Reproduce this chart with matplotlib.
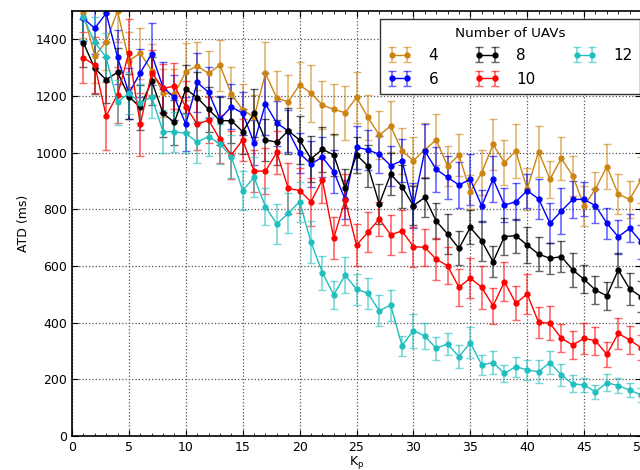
import numpy as np
import matplotlib
matplotlib.use("Agg")
from matplotlib import pyplot as plt
from matplotlib.ticker import MultipleLocator

kp = list(range(1, 51))

atd4 = [1493, 1341, 1392, 1500, 1325, 1351, 1290, 1210, 1206, 1286,
        1306, 1280, 1309, 1207, 1151, 1125, 1280, 1192, 1180, 1239,
        1210, 1168, 1153, 1141, 1195, 1125, 1062, 1094, 1006, 972,
        1010, 1045, 953, 992, 862, 929, 1029, 965, 1006, 871,
        1004, 906, 980, 918, 812, 872, 951, 854, 835, 904]
err4 = [90, 95, 100, 110, 100, 90, 95, 85, 90, 100,
        85, 80, 90, 95, 90, 80, 110, 95, 95, 80,
        100, 85, 90, 95, 90, 80, 85, 90, 80, 85,
        95, 90, 70, 75, 60, 80, 90, 80, 95, 75,
        90, 65, 75, 70, 70, 60, 80, 70, 65, 80]

atd6 = [1474, 1439, 1492, 1337, 1210, 1282, 1348, 1230, 1195, 1101,
        1248, 1213, 1119, 1162, 1139, 1035, 1172, 1104, 1077, 998,
        960, 984, 933, 835, 1019, 1010, 994, 954, 972, 813,
        1006, 941, 913, 886, 906, 812, 907, 815, 827, 866,
        837, 751, 794, 835, 835, 813, 751, 703, 733, 686]
err6 = [80, 90, 100, 95, 90, 85, 110, 90, 80, 95,
        105, 90, 80, 80, 75, 80, 110, 80, 75, 70,
        80, 70, 75, 70, 75, 70, 65, 70, 75, 80,
        95, 80, 75, 80, 90, 55, 80, 60, 65, 60,
        70, 70, 80, 65, 60, 60, 55, 60, 50, 60]

atd8 = [1388, 1298, 1257, 1284, 1198, 1160, 1253, 1139, 1107, 1225,
        1194, 1153, 1113, 1113, 1074, 1139, 1045, 1037, 1077, 1045,
        978, 1012, 992, 874, 992, 953, 819, 924, 880, 813,
        842, 759, 713, 662, 736, 689, 615, 704, 707, 674,
        642, 627, 633, 586, 553, 515, 495, 586, 519, 492]
err8 = [85, 90, 80, 85, 80, 80, 85, 85, 80, 85,
        90, 80, 85, 80, 80, 85, 75, 80, 80, 85,
        80, 80, 75, 70, 65, 75, 70, 75, 75, 70,
        70, 65, 70, 60, 60, 70, 55, 65, 60, 65,
        60, 55, 55, 60, 50, 50, 50, 60, 55, 55]

atd10 = [1335, 1309, 1130, 1204, 1353, 1100, 1282, 1227, 1235, 1162,
         1101, 1115, 1047, 992, 1045, 935, 935, 1001, 874, 866,
         827, 904, 698, 833, 674, 719, 766, 710, 724, 668,
         666, 624, 601, 525, 557, 525, 459, 545, 468, 501,
         401, 398, 345, 321, 345, 336, 288, 362, 339, 312]
err10 = [90, 100, 120, 100, 120, 110, 80, 85, 80, 90,
         90, 80, 85, 85, 75, 75, 80, 75, 90, 80,
         85, 80, 75, 90, 75, 70, 60, 70, 75, 70,
         65, 75, 65, 65, 70, 75, 65, 70, 60, 70,
         55, 60, 50, 50, 55, 50, 45, 55, 50, 45]

atd12 = [1478, 1389, 1337, 1178, 1210, 1174, 1198, 1074, 1074, 1068,
         1037, 1057, 1031, 986, 866, 913, 809, 748, 786, 827,
         684, 577, 498, 568, 518, 504, 442, 462, 319, 372,
         353, 310, 325, 280, 329, 251, 259, 221, 245, 233,
         227, 259, 215, 184, 180, 156, 188, 178, 162, 145]
err12 = [80, 90, 85, 80, 75, 70, 75, 75, 70, 70,
         75, 70, 70, 75, 70, 70, 65, 70, 70, 70,
         75, 60, 50, 65, 55, 55, 55, 55, 35, 60,
         45, 40, 40, 40, 55, 35, 40, 30, 35, 35,
         40, 40, 40, 30, 25, 25, 30, 25, 25, 25]

labels = ["4", "6", "8", "10", "12"]
colors = ["#cc8411", "#0000ff", "#000000", "#ff0000", "#1fbfbf"]
series = [(atd4, err4), (atd6, err6), (atd8, err8), (atd10, err10), (atd12, err12)]

plt.rcParams["font.family"] = "DejaVu Sans"
plt.rcParams["mathtext.default"] = "regular"

fig = plt.figure(figsize=(6.4, 4.7), dpi=100)
ax = fig.add_axes([72 / 640, 34 / 470, 569 / 640, 425 / 470])

for (y, e), c, lab in zip(series, colors, labels):
    cont = ax.errorbar(kp, y, yerr=e, color=c, ecolor=c, lw=1, marker="o",
                       ms=3.5, mec=c, capsize=3, elinewidth=1.2, label=lab)
    for bar in cont[2]:
        bar.set_alpha(0.6)
    for cap in cont[1]:
        cap.set_alpha(0.6)

ax.set_xlim(0, 50)
ax.set_ylim(0, 1500)
ax.xaxis.set_major_locator(MultipleLocator(5))
ax.xaxis.set_minor_locator(MultipleLocator(1))
ax.yaxis.set_major_locator(MultipleLocator(200))
ax.tick_params(which="both", direction="in", top=True, right=True, labelsize=9)
ax.tick_params(which="major", length=4)
ax.tick_params(which="minor", length=2)
ax.grid(True, which="major", ls=":", color="#555555", lw=0.9)
ax.set_axisbelow(True)
for s in ax.spines.values():
    s.set_linewidth(1.2)

ax.set_xlabel("K$_{p}$", fontsize=9, labelpad=0)
ax.set_ylabel("ATD (ms)", fontsize=9)

leg = ax.legend(ncol=3, loc="upper right", bbox_to_anchor=(1.012, 0.999),
                title="Number of UAVs", fontsize=11, title_fontsize=9.7,
                frameon=True, fancybox=False, framealpha=1, edgecolor="#333333",
                numpoints=2, handlelength=1.6, handletextpad=1.1,
                columnspacing=2.4, borderpad=0.5, labelspacing=0.55)
leg.get_frame().set_linewidth(1.0)

fig.savefig("out.png", dpi=100)
